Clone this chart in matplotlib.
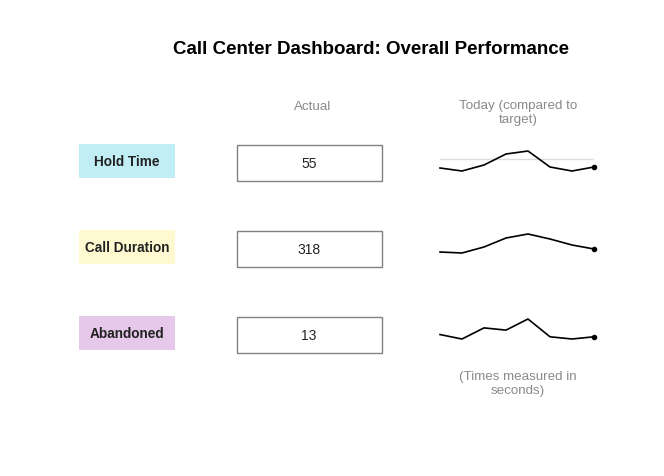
"""Call center dashboard: KPI labels, actual values and sparklines vs target."""
import matplotlib; matplotlib.use('Agg')
import matplotlib.pyplot as plt
from matplotlib.patches import Rectangle

plt.rcParams.update({
    'font.family': ['Liberation Sans', 'DejaVu Sans'],
    'font.size': 9.6,
})

# --- data ---
metrics = ['Hold Time', 'Call Duration', 'Abandoned']
label_colors = ['#c0eef4', '#fff9d2', '#e6c8ea']
actual = [55, 318, 13]
hold_series = [54, 51, 57, 68, 71, 55, 51, 55]
duration_series = [309, 306, 324, 351, 363, 348, 330, 318]
abandoned_series = [14, 12, 17, 16, 21, 13, 12, 13]
series = [hold_series, duration_series, abandoned_series]
targets = [63, None, None]

W, H = 664, 476
fig = plt.figure(figsize=(W / 100, H / 100), dpi=100)
fig.patch.set_facecolor('white')

# full-figure canvas in pixel units (y downwards)
ax = fig.add_axes([0, 0, 1, 1])
ax.set_xlim(0, W)
ax.set_ylim(H, 0)
ax.axis('off')

gray = '#8a8a8a'
ax.text(371, 49, 'Call Center Dashboard: Overall Performance',
        fontsize=13.5, fontweight='bold', ha='center', va='center', color='black')
ax.text(313, 107, 'Actual', ha='center', va='center', color=gray)
ax.text(518, 113, 'Today (compared to\ntarget)', ha='center', va='center',
        color=gray, linespacing=1.15)
ax.text(518, 384, '(Times measured in\nseconds)', ha='center', va='center',
        color=gray, linespacing=1.15)

row_top = [144, 230, 316]
spark_span = [(151, 171), (234, 253), (319, 339)]   # pixel y of max / min

for i, name in enumerate(metrics):
    y0 = row_top[i]
    ax.add_patch(Rectangle((79, y0), 96, 34, fc=label_colors[i], ec='none'))
    ax.text(127, y0 + 18, name, fontsize=9.8, fontweight='bold',
            ha='center', va='center', color='#222')

    ax.add_patch(Rectangle((236.5, y0 + 0.5), 145, 36, fc='white', ec='#808080', lw=1.0))
    ax.text(309, y0 + 20, str(actual[i]), fontsize=10, ha='center', va='center', color='#222')

    # sparkline
    ytop, ybot = spark_span[i]
    sax = fig.add_axes([440 / W, 1 - ybot / H, 154 / W, (ybot - ytop) / H])
    vals = series[i]
    xs = list(range(len(vals)))
    if targets[i] is not None:
        sax.axhline(targets[i], color='#dddddd', lw=1.0, zorder=1)
    sax.plot(xs, vals, color='black', lw=1.2, zorder=2, clip_on=False)
    sax.plot(xs[-1], vals[-1], 'o', color='black', ms=3, zorder=3, clip_on=False)
    sax.set_xlim(0, len(vals) - 1)
    sax.set_ylim(min(vals), max(vals))
    sax.axis('off')

fig.savefig('out.png', dpi=100)
plt.close()
